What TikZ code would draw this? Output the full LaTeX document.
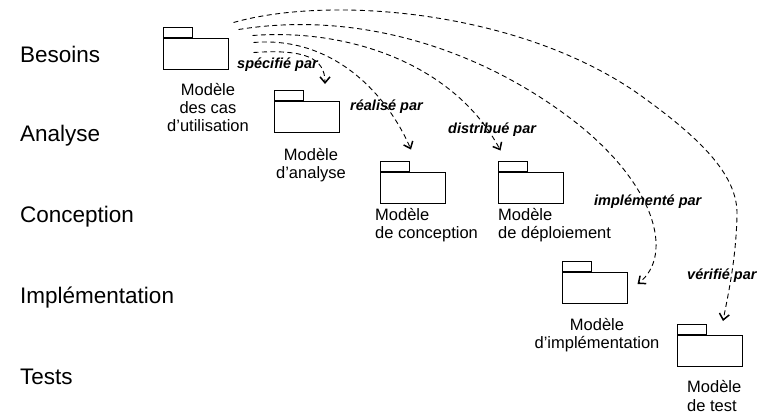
\documentclass[tikz,border=0pt]{standalone}
\usepackage{fontspec}
\setmainfont{Liberation Sans}
\usetikzlibrary{arrows.meta}

\tikzset{
  paquet/.style={draw, line width=1pt, minimum width=65pt, minimum height=31pt, inner sep=0pt},
  onglet/.style={draw, line width=1pt, minimum width=29pt, minimum height=10pt, inner sep=0pt, anchor=south west},
  etape/.style={anchor=base west, inner sep=0pt, font=\fontsize{22.5}{27}\selectfont},
  modele/.style={inner sep=0pt, font=\fontsize{16.5}{18.3}\selectfont},
  role/.style={anchor=base west, inner sep=0pt, font=\fontsize{14.5}{17}\selectfont\bfseries\itshape},
  lien/.style={dash pattern=on 5pt off 3.5pt, line width=0.9pt,
    -{Straight Barb[length=6pt,width=10pt,line width=1.5pt]}}
}

\begin{document}
\begin{tikzpicture}[x=1pt,y=-1pt]
\useasboundingbox (0,0) rectangle (762,416);

\node[etape] (besoins) at (20,62) {Besoins};
\node[etape] (analyse) at (20,141.5) {Analyse};
\node[etape] (conception) at (20,222) {Conception};
\node[etape] (implementation) at (20,303) {Implémentation};
\node[etape] (tests) at (20,384) {Tests};

\node[paquet] (pBesoins) at (195.5,53.5) {};
\node[onglet] (tBesoins) at (pBesoins.north west) {};
\node[paquet] (pAnalyse) at (307,117) {};
\node[onglet] (tAnalyse) at (pAnalyse.north west) {};
\node[paquet] (pConception) at (413,187.5) {};
\node[onglet] (tConception) at (pConception.north west) {};
\node[paquet] (pDeploiement) at (530.5,187.5) {};
\node[onglet] (tDeploiement) at (pDeploiement.north west) {};
\node[paquet] (pImpl) at (594.5,288) {};
\node[onglet] (tImpl) at (pImpl.north west) {};
\node[paquet] (pTest) at (710,351) {};
\node[onglet] (tTest) at (pTest.north west) {};

\node[modele, align=center, anchor=base] (lBesoins) at (208,131.6) {Modèle\\des cas\\d’utilisation};
\node[modele, align=center, anchor=base] (lAnalyse) at (311,178.3) {Modèle\\d’analyse};
\node[modele, align=left, anchor=base west] (lConception) at (375,238.3) {Modèle\\de conception};
\node[modele, align=left, anchor=base west] (lDeploiement) at (498,238.3) {Modèle\\de déploiement};
\node[modele, align=center, anchor=base] (lImpl) at (597,348.3) {Modèle\\d’implémentation};
\node[modele, align=left, anchor=base west] (lTest) at (687,411) {Modèle\\de test};

\draw[lien] ([xshift=25pt,yshift=-15pt]pBesoins.north east) .. controls (305,49) and (325,58) .. ([xshift=-15pt,yshift=17pt]pAnalyse.north east);
\draw[lien] ([xshift=25pt,yshift=-5pt]pBesoins.north east) .. controls (330,36) and (385,90) .. ([xshift=1pt,yshift=11pt]tConception.north east);
\draw[lien] ([xshift=24pt,yshift=2pt]pBesoins.north east) .. controls (350,28) and (455,65) .. ([xshift=3pt,yshift=10pt]tDeploiement.north west);
\draw[lien] ([xshift=10pt,yshift=8pt]pBesoins.north east) .. controls (360,10) and (480,50) .. (570,118)
  .. controls (655,182) and (675,255) .. ([xshift=10pt,yshift=4pt]pImpl.east);
\draw[lien] ([xshift=5pt,yshift=15pt]pBesoins.north east) .. controls (330,-5) and (520,10) .. (640,95)
  .. controls (700,138) and (738,175) .. (737,215) .. controls (736,260) and (728,295) .. ([xshift=-20pt,yshift=14pt]pTest.north east);

\node[role] (specifie) at (237,68) {spécifié par};
\node[role] (realise) at (350,110) {réalisé par};
\node[role] (distribue) at (448,133) {distribué par};
\node[role] (implemente) at (594,205) {implémenté par};
\node[role] (verifie) at (687,279) {vérifié par};
\end{tikzpicture}
\end{document}
